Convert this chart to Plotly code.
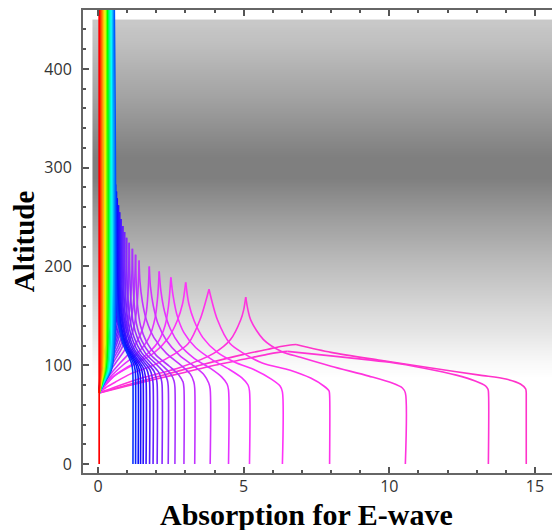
import plotly.graph_objects as go

# ---------------- data ----------------
# background shading: altitude bin edges and gray level (0-255) per bin
shade_alt_edges = [80, 95, 110, 125, 140, 160, 180, 200, 220, 240, 260, 280,
                   300, 320, 340, 360, 380, 400, 420, 440, 450]
shade_gray = [255, 249, 240, 230, 220, 208, 196, 184, 170, 157, 142, 127,
              127, 138, 150, 162, 172, 183, 193, 200]
shade_x_edges = [-0.19, 7.78, 15.75]

# penetrating waves (no reflection): red one plus rainbow band
red_x = [0.04, 0.04]
red_y = [0, 460]
pen_alt = [72, 82, 95, 115, 460]
pen_x = [
    [0.04, 0.054, 0.072, 0.08, 0.08],
    [0.04, 0.068, 0.104, 0.12, 0.12],
    [0.04, 0.082, 0.136, 0.16, 0.16],
    [0.04, 0.096, 0.168, 0.20, 0.20],
    [0.04, 0.110, 0.200, 0.24, 0.24],
    [0.04, 0.124, 0.232, 0.28, 0.28],
    [0.04, 0.138, 0.264, 0.32, 0.32],
    [0.04, 0.152, 0.296, 0.36, 0.36],
    [0.04, 0.166, 0.328, 0.40, 0.40],
    [0.04, 0.180, 0.360, 0.44, 0.44],
    [0.04, 0.194, 0.392, 0.48, 0.48],
    [0.04, 0.208, 0.424, 0.52, 0.52],
    [0.04, 0.222, 0.456, 0.56, 0.56],
]
pen_hue = [12, 25, 38, 52, 70, 95, 120, 145, 165, 180, 195, 208, 220]

# reflected waves: upward branch (to reflection height) and downward branch
up_x = [
    [0.04, 0.07, 0.14, 0.25, 0.38, 0.49, 0.54, 0.56, 0.57],
    [0.04, 0.08, 0.15, 0.26, 0.40, 0.52, 0.57, 0.59, 0.60],
    [0.04, 0.08, 0.16, 0.28, 0.42, 0.54, 0.60, 0.62, 0.63],
    [0.04, 0.08, 0.17, 0.29, 0.44, 0.57, 0.63, 0.65, 0.66],
    [0.04, 0.09, 0.18, 0.31, 0.46, 0.60, 0.66, 0.69, 0.70],
    [0.04, 0.09, 0.19, 0.33, 0.49, 0.63, 0.70, 0.73, 0.74],
    [0.04, 0.10, 0.20, 0.35, 0.52, 0.67, 0.75, 0.78, 0.79],
    [0.04, 0.10, 0.22, 0.37, 0.56, 0.72, 0.80, 0.84, 0.85],
    [0.04, 0.11, 0.24, 0.40, 0.60, 0.77, 0.86, 0.90, 0.91],
    [0.04, 0.12, 0.26, 0.43, 0.64, 0.83, 0.93, 0.97, 0.98],
    [0.04, 0.13, 0.28, 0.46, 0.70, 0.90, 1.01, 1.05, 1.07],
    [0.04, 0.14, 0.30, 0.50, 0.76, 0.98, 1.10, 1.16, 1.18],
    [0.04, 0.15, 0.32, 0.55, 0.83, 1.06, 1.20, 1.26, 1.29],
    [0.04, 0.16, 0.35, 0.62, 0.95, 1.20, 1.33, 1.38, 1.41],
    [0.04, 0.18, 0.40, 0.75, 1.15, 1.47, 1.65, 1.72, 1.76],
    [0.04, 0.20, 0.45, 0.85, 1.35, 1.75, 1.96, 2.05, 2.10],
    [0.04, 0.20, 0.50, 1.00, 1.55, 2.05, 2.30, 2.42, 2.50],
    [0.04, 0.20, 0.60, 1.30, 1.90, 2.40, 2.72, 2.90, 3.01],
    [0.04, 0.25, 0.60, 1.10, 1.90, 2.60, 3.10, 3.50, 3.81],
    [0.04, 0.50, 1.50, 2.84, 3.97, 4.55, 4.90, 5.00, 5.07],
    [0.04, 1.00, 2.00, 3.00, 4.00, 5.00, 5.80, 6.20, 6.50],
    [0.04, 1.00, 2.00, 3.50, 5.00, 5.80, 6.27, 6.60, 6.80],
]
up_y = [
    [72, 87, 102, 116, 130, 150, 182, 235, 290],
    [72, 87, 101, 115, 129, 149, 180, 230, 283],
    [72, 86, 100, 114, 128, 148, 178, 225, 276],
    [72, 86, 100, 113, 127, 147, 176, 220, 269],
    [72, 85, 99, 112, 126, 146, 174, 215, 262],
    [72, 85, 98, 111, 125, 145, 172, 210, 255],
    [72, 84, 97, 110, 124, 143, 170, 205, 248],
    [72, 84, 97, 109, 123, 142, 168, 200, 241],
    [72, 83, 96, 108, 122, 141, 166, 198, 235],
    [72, 83, 95, 107, 121, 140, 164, 195, 229],
    [72, 82, 94, 106, 120, 138, 162, 192, 224],
    [72, 81, 93, 105, 119, 137, 160, 190, 218],
    [72, 81, 92, 104, 118, 136, 158, 185, 212],
    [72, 80, 91, 103, 117, 135, 157, 180, 206],
    [72, 80, 90, 102, 115, 132, 152, 175, 200],
    [72, 79, 89, 100, 112, 128, 148, 170, 195],
    [72, 78, 88, 98, 108, 123, 140, 160, 189],
    [72, 78, 90, 102, 112, 127, 145, 162, 184],
    [72, 77, 83, 91, 100, 111, 122, 146, 177],
    [72, 77, 87, 98, 112, 126, 146, 156, 169],
    [72, 79, 86, 93, 100, 106, 111, 113, 114],
    [72, 80, 88, 100, 111, 116, 119, 120.5, 121],
]
down_x = [
    [0.57, 0.58, 0.60, 0.64, 0.71, 0.85, 1.02, 1.15, 1.19, 1.20, 1.20],
    [0.60, 0.61, 0.63, 0.67, 0.75, 0.90, 1.08, 1.23, 1.28, 1.29, 1.29],
    [0.63, 0.64, 0.66, 0.70, 0.78, 0.94, 1.14, 1.31, 1.36, 1.38, 1.38],
    [0.66, 0.67, 0.69, 0.73, 0.82, 0.99, 1.21, 1.38, 1.44, 1.46, 1.46],
    [0.70, 0.71, 0.73, 0.78, 0.87, 1.05, 1.28, 1.47, 1.53, 1.55, 1.55],
    [0.74, 0.75, 0.77, 0.82, 0.92, 1.11, 1.36, 1.56, 1.62, 1.65, 1.65],
    [0.79, 0.80, 0.83, 0.88, 0.99, 1.19, 1.46, 1.67, 1.74, 1.77, 1.77],
    [0.85, 0.86, 0.89, 0.94, 1.06, 1.27, 1.56, 1.79, 1.86, 1.89, 1.89],
    [0.91, 0.92, 0.95, 1.01, 1.14, 1.37, 1.68, 1.92, 2.00, 2.03, 2.03],
    [0.98, 0.99, 1.03, 1.10, 1.24, 1.49, 1.82, 2.08, 2.17, 2.20, 2.20],
    [1.07, 1.09, 1.13, 1.20, 1.36, 1.63, 2.00, 2.28, 2.38, 2.41, 2.41],
    [1.18, 1.20, 1.24, 1.32, 1.50, 1.80, 2.20, 2.50, 2.61, 2.64, 2.64],
    [1.29, 1.31, 1.36, 1.46, 1.66, 2.00, 2.45, 2.78, 2.92, 2.95, 2.95],
    [1.41, 1.44, 1.52, 1.66, 1.92, 2.35, 2.85, 3.17, 3.29, 3.32, 3.32],
    [1.76, 1.80, 1.90, 2.06, 2.35, 2.80, 3.30, 3.65, 3.80, 3.85, 3.85],
    [2.10, 2.16, 2.28, 2.48, 2.80, 3.30, 3.85, 4.25, 4.43, 4.48, 4.48],
    [2.50, 2.58, 2.72, 2.95, 3.35, 3.90, 4.50, 4.95, 5.15, 5.20, 5.20],
    [3.01, 3.12, 3.30, 3.60, 4.10, 4.70, 5.40, 5.95, 6.25, 6.33, 6.33],
    [3.81, 4.10, 4.53, 5.00, 5.66, 6.60, 7.30, 7.75, 7.93, 7.95, 7.95],
    [5.07, 5.24, 5.68, 6.30, 6.95, 8.00, 9.30, 10.10, 10.45, 10.55, 10.55],
    [6.50, 7.50, 8.80, 10.00, 11.20, 12.30, 12.95, 13.30, 13.38, 13.40, 13.40],
    [6.80, 8.00, 9.70, 11.50, 13.10, 14.00, 14.50, 14.68, 14.70, 14.70, 14.70],
]
down_y = [
    [290, 235, 190, 164, 141, 122, 111, 102, 95, 89, 0],
    [283, 230, 188, 162, 140, 121, 110, 101, 94, 88, 0],
    [276, 225, 186, 160, 138, 120, 109, 100, 93, 87, 0],
    [269, 220, 183, 158, 137, 119, 108, 99, 92, 86, 0],
    [262, 215, 180, 156, 136, 118, 107, 98, 91, 85, 0],
    [255, 210, 178, 154, 134, 117, 106, 97, 90, 84, 0],
    [248, 205, 175, 152, 133, 116, 105, 96, 89, 83, 0],
    [241, 200, 172, 150, 131, 115, 104, 95, 88, 82, 0],
    [235, 198, 170, 148, 130, 114, 103, 94, 87, 81, 0],
    [229, 195, 167, 146, 128, 113, 102, 93, 86, 80, 0],
    [224, 192, 165, 144, 127, 112, 101, 92, 85, 79, 0],
    [218, 190, 163, 142, 125, 111, 100, 91, 84, 78, 0],
    [212, 185, 160, 140, 124, 110, 99, 90, 83, 77, 0],
    [206, 185, 165, 146, 128, 112, 100, 91, 83, 77, 0],
    [200, 180, 160, 142, 125, 110, 99, 90, 82, 76, 0],
    [195, 175, 155, 137, 121, 107, 97, 88, 81, 75, 0],
    [189, 170, 150, 133, 118, 106, 96, 87, 80, 74, 0],
    [184, 162, 145, 128, 113, 103, 95, 86, 79, 73, 0],
    [177, 146, 122, 112, 102, 95, 87, 79, 74, 70, 0],
    [169, 146, 126, 114, 108, 99, 89, 82, 77, 72, 0],
    [114, 111, 107, 103, 97, 90, 84, 79, 76, 74, 0],
    [121, 113, 105, 97, 90, 86, 81, 76, 72, 70, 0],
]
refl_hue = [230, 234, 238, 242, 246, 250, 254, 258, 262, 266, 270, 274,
            278, 282, 287, 292, 297, 302, 306, 310, 313, 316]
refl_light = [52, 52, 52, 53, 53, 54, 55, 56, 57, 58, 59, 60,
              60, 60, 60, 60, 60, 60, 60, 60, 60, 60]

x_ticks = [0, 5, 10, 15]
y_ticks = [0, 100, 200, 300, 400]

# ---------------- figure ----------------
fig = go.Figure()

fig.add_trace(go.Heatmap(
    x=shade_x_edges, y=shade_alt_edges,
    z=[[g, g] for g in shade_gray],
    zmin=0, zmax=255, zsmooth='best',
    colorscale=[[0, 'rgb(0,0,0)'], [1, 'rgb(255,255,255)']],
    showscale=False, hoverinfo='skip'))

LW = 1.6

def line(color):
    return dict(color=color, width=LW, shape='spline', smoothing=0.8)

for i in range(len(up_x) - 1, -1, -1):
    col = 'hsl(%d,100%%,%d%%)' % (refl_hue[i], refl_light[i])
    fig.add_trace(go.Scatter(x=down_x[i], y=down_y[i], mode='lines',
                             line=line(col), hoverinfo='skip', showlegend=False))
    fig.add_trace(go.Scatter(x=up_x[i], y=up_y[i], mode='lines',
                             line=line(col), hoverinfo='skip', showlegend=False))

for i in range(len(pen_x) - 1, -1, -1):
    col = 'hsl(%d,100%%,50%%)' % pen_hue[i]
    fig.add_trace(go.Scatter(x=pen_x[i], y=pen_alt, mode='lines',
                             line=line(col), hoverinfo='skip', showlegend=False))

fig.add_trace(go.Scatter(x=red_x, y=red_y, mode='lines',
                         line=dict(color='hsl(0,100%,50%)', width=1.7),
                         hoverinfo='skip', showlegend=False))

axis_common = dict(
    showline=True, linecolor='#666666', linewidth=2, mirror='ticks',
    ticks='inside', ticklen=6, tickwidth=1.5, tickcolor='#555555',
    showgrid=False, zeroline=False, automargin=False,
    tickfont=dict(family='Open Sans', size=16, color='#333333'),
)

fig.update_xaxes(
    range=[-0.515, 15.79], tickvals=x_ticks,
    minor=dict(dtick=1, tick0=0, ticks='inside', ticklen=3, tickcolor='#555555', showgrid=False),
    ticklabelstandoff=-2,
    **axis_common)
fig.update_yaxes(
    range=[-9.1, 459.7], tickvals=y_ticks,
    minor=dict(dtick=20, tick0=0, ticks='inside', ticklen=3, tickcolor='#555555', showgrid=False),
    ticklabelstandoff=6,
    title=dict(text='<b>Altitude</b>', standoff=8,
               font=dict(family='Liberation Serif', size=29, color='black')),
    **axis_common)

fig.add_annotation(
    text='<b>Absorption for E-wave</b>', xref='paper', yref='paper',
    x=0.4695, y=-0.089, xanchor='center', yanchor='middle', showarrow=False,
    font=dict(family='Liberation Serif', size=30, color='black'))

fig.update_layout(
    width=552, height=522,
    margin=dict(l=75, r=2, t=2, b=57),
    plot_bgcolor='white', paper_bgcolor='white',
    showlegend=False,
)

fig.write_html('out.html')
